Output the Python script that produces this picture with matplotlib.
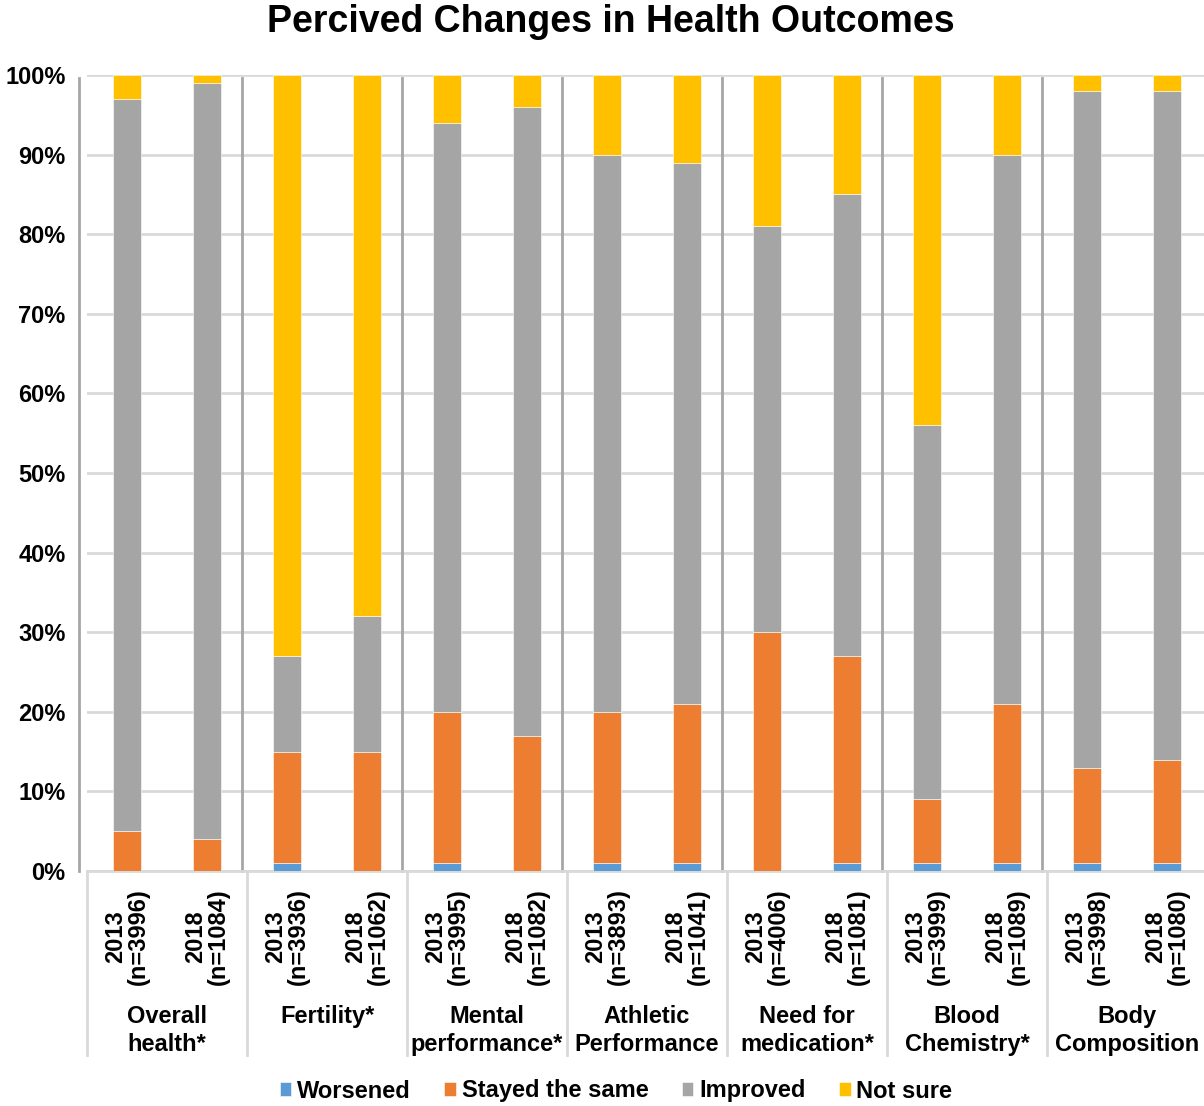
import matplotlib
matplotlib.use("Agg")
import matplotlib.pyplot as plt
import numpy as np

plt.rcParams['font.family'] = ['Liberation Sans', 'DejaVu Sans']
plt.rcParams['font.weight'] = 'bold'

groups = ["Overall\nhealth*", "Fertility*", "Mental\nperformance*", "Athletic\nPerformance",
          "Need for\nmedication*", "Blood\nChemistry*", "Body\nComposition"]
bar_labels = ["2013\n(n=3996)", "2018\n(n=1084)", "2013\n(n=3936)", "2018\n(n=1062)",
              "2013\n(n=3995)", "2018\n(n=1082)", "2013\n(n=3893)", "2018\n(n=1041)",
              "2013\n(n=4006)", "2018\n(n=1081)", "2013\n(n=3999)", "2018\n(n=1089)",
              "2013\n(n=3998)", "2018\n(n=1080)"]

# percent of respondents per bar
worsened = [0, 0, 1, 0, 1, 0, 1, 1, 0, 1, 1, 1, 1, 1]
stayed   = [5, 4, 14, 15, 19, 17, 19, 20, 30, 26, 8, 20, 12, 13]
improved = [92, 95, 12, 17, 74, 79, 70, 68, 51, 58, 47, 69, 85, 84]
not_sure = [3, 1, 73, 68, 6, 4, 10, 11, 19, 15, 44, 10, 2, 2]

series = [("Worsened", worsened, "#5B9BD5"),
          ("Stayed the same", stayed, "#ED7D31"),
          ("Improved", improved, "#A5A5A5"),
          ("Not sure", not_sure, "#FFC000")]

fs = 17

fig = plt.figure(figsize=(12.04, 11.06), dpi=100)
ax = fig.add_axes([87/1204, 235/1106, 1120/1204, 796/1106])

x = np.arange(len(bar_labels))
bottom = np.zeros(len(x))
for name, vals, col in series:
    vals = np.array(vals, dtype=float)
    ax.bar(x, vals, 0.35, bottom=bottom, color=col, label=name,
           edgecolor="white", linewidth=0.4, zorder=3)
    bottom += vals

ax.set_xlim(-0.5, 13.5)
ax.set_ylim(0, 100)
ax.set_yticks(range(0, 101, 10))
ax.set_yticklabels([f"{v}%" for v in range(0, 101, 10)], fontsize=fs, fontweight='bold')
ax.tick_params(axis='y', length=0, pad=15.5)
ax.set_xticks([])
ax.yaxis.grid(True, color="#D9D9D9", linewidth=2, zorder=0)
ax.set_axisbelow(True)
for s in ['top', 'right', 'left']:
    ax.spines[s].set_visible(False)
ax.spines['bottom'].set_color("#D9D9D9")
ax.spines['bottom'].set_linewidth(2)

# group separators inside the plot
seps = [-0.6] + [b - 0.06 for b in np.arange(1.5, 12, 2)]
for s in seps:
    ax.plot([s, s], [0, 99.6], color="#A6A6A6", linewidth=2, zorder=2, clip_on=False)

# category labels below the axis
trans = ax.get_xaxis_transform()
for i, lab in enumerate(bar_labels):
    ax.text(i, -0.082, lab, rotation=90, ha='center', va='center', multialignment='center',
            fontsize=fs, fontweight='bold', transform=trans, linespacing=1.0)
for k, g in enumerate(groups):
    ax.text(2 * k + 0.5, -0.168, g, ha='center', va='top', multialignment='center',
            fontsize=fs, fontweight='bold', transform=trans, linespacing=1.27)
for b in np.arange(-0.5, 14, 2):
    ax.plot([b, b], [0, -0.231], color="#D9D9D9", linewidth=2, transform=trans, clip_on=False)

fig.text(611/1204, 1 - 22/1106, "Percived Changes in Health Outcomes", ha='center', va='center',
         fontsize=27, fontweight='bold')

fig.legend(loc='center', bbox_to_anchor=(616/1204, 1 - 1091/1106), ncol=4, frameon=False,
           prop={'size': fs, 'weight': 'bold'}, handlelength=0.5, handleheight=0.5,
           handletextpad=0.25, columnspacing=1.4)

fig.savefig("out.png", dpi=100)
